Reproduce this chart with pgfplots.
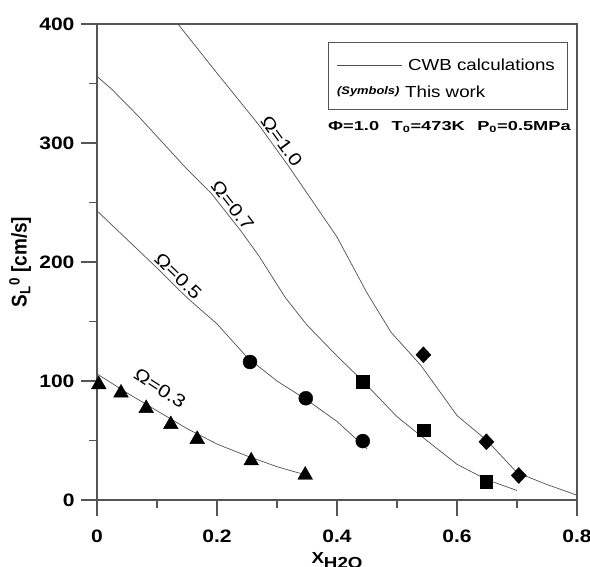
\documentclass[border=0pt]{standalone}
\usepackage{fontspec}
\setmainfont[FakeStretch=1.17]{Liberation Sans}
\newfontfamily\plainsans{Liberation Sans}
\usepackage{pgfplots}
\pgfplotsset{compat=1.18}
\definecolor{axgray}{HTML}{555555}
\definecolor{lngray}{HTML}{505050}
\begin{document}
\begin{tikzpicture}
\begin{axis}[
  scale only axis, width=480pt, height=476pt,
  xmin=0, xmax=0.8, ymin=0, ymax=400,
  xtick={0,0.2,0.4,0.6,0.8}, ytick={0,100,200,300,400},
  xticklabels={0,0.2,0.4,0.6,0.8},
  minor x tick num=1, minor y tick num=1,
  tick align=outside, xtick pos=bottom, ytick pos=left,
  major tick length=16pt, minor tick length=8pt,
  axis line style={draw=axgray, line width=1.2pt},
  every tick/.style={draw=axgray, line width=1.2pt},
  ticklabel style={font=\fontsize{18}{18}\selectfont\bfseries},
  xticklabel style={yshift=-10pt},
  yticklabel style={xshift=-3pt},
  /pgf/number format/assume math mode=true,
  ylabel={\plainsans\fontsize{19}{19}\selectfont\bfseries\scalebox{1}[1.12]{S\textsubscript{L}\textsuperscript{0} [cm/s]}},
  ylabel style={at={(axis description cs:-0.16,0.5)}, anchor=center, rotate=0},
  xlabel={\fontsize{16}{16}\selectfont\bfseries X\raisebox{-5pt}{H2O}},
  xlabel style={at={(axis description cs:0.5,-0.128)}, anchor=center},
  clip=false,
]
\coordinate (O) at (rel axis cs:0,0);
% CWB calculations lines
\addplot[lngray, line width=0.7pt] coordinates {
 (0,106) (0.05,90) (0.1,75) (0.15,60) (0.2,47) (0.25,37) (0.3,28) (0.355,20)};
\addplot[lngray, line width=0.7pt] coordinates {
 (0,243) (0.05,219) (0.1,195) (0.15,170) (0.2,148) (0.25,120) (0.3,100) (0.35,84) (0.4,66) (0.45,43)};
\addplot[lngray, line width=0.7pt] coordinates {
 (0,356) (0.025,345) (0.07,322) (0.11,300) (0.15,278) (0.19,258) (0.24,226) (0.27,205) (0.314,170) (0.35,147) (0.4,121) (0.443,100) (0.5,70) (0.547,51) (0.6,30) (0.65,17) (0.7,8)};
\addplot[lngray, line width=0.7pt] coordinates {
 (0.135,400) (0.19,365) (0.23,340) (0.27,315) (0.32,280) (0.4,221) (0.45,174) (0.49,141) (0.54,113) (0.6,71) (0.65,50) (0.7,23) (0.75,13) (0.8,4)};
% This work
\addplot[only marks, mark=triangle*, mark size=8.5pt, black] coordinates {
 (0.003,97) (0.04,90) (0.082,77) (0.123,63.5) (0.167,51) (0.257,33) (0.347,21)};
\addplot[only marks, mark=*, mark size=7pt, black] coordinates {
 (0.255,116) (0.348,85.5) (0.443,49.5)};
\addplot[only marks, mark=square*, mark size=6.3pt, black] coordinates {
 (0.443,99.4) (0.545,58.5) (0.649,15.3)};
\addplot[only marks, mark=diamond*, mark size=8pt, mark options={xscale=1.25}, black] coordinates {
 (0.544,122) (0.649,48.9) (0.703,20.6)};
% curve labels
\node[rotate=-54, anchor=south, inner sep=2.5pt, font=\fontsize{18}{18}\selectfont] at (axis cs:0.2955,297) {Ω=1.0};
\node[rotate=-52, anchor=south, inner sep=2.5pt, font=\fontsize{18}{18}\selectfont] at (axis cs:0.214,242.6) {Ω=0.7};
\node[rotate=-44, anchor=south, inner sep=2.5pt, font=\fontsize{18}{18}\selectfont] at (axis cs:0.125,182.5) {Ω=0.5};
\node[rotate=-33, font=\fontsize{18}{18}\selectfont] at (axis cs:0.105,94) {Ω=0.3};
\end{axis}
% legend box
\draw[axgray, line width=1pt] ([shift={(231pt,390pt)}]O) rectangle ([shift={(470pt,457pt)}]O);
\draw[lngray, line width=0.8pt] ([shift={(240pt,435pt)}]O) -- ([shift={(305pt,435pt)}]O);
\node[anchor=west, inner sep=0pt, font=\fontsize{16}{16}\selectfont] at ([shift={(311pt,435pt)}]O) {CWB calculations};
\node[anchor=west, inner sep=0pt, font=\fontsize{11}{11}\selectfont\bfseries\itshape] at ([shift={(240pt,408pt)}]O) {(Symbols)};
\node[anchor=west, inner sep=0pt, font=\fontsize{16}{16}\selectfont] at ([shift={(308pt,408pt)}]O) {This work};
\node[anchor=west, inner sep=0pt, font=\fontsize{13}{13}\selectfont\bfseries] at ([shift={(231pt,373pt)}]O)
  {\scalebox{1.2}[1]{Φ=1.0\hspace{0.8em}T\textsubscript{0}=473K\hspace{0.8em}P\textsubscript{0}=0.5MPa}};
\pgfresetboundingbox
\path ([shift={(-97pt,-67pt)}]O) rectangle ([shift={(493pt,500pt)}]O);
\end{tikzpicture}
\end{document}
